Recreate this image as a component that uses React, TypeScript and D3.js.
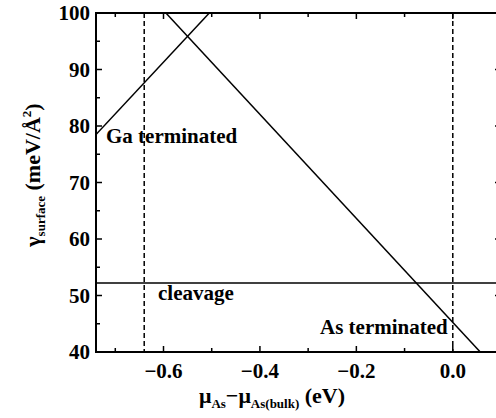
import React, { useEffect, useRef } from 'react';
import * as d3 from 'd3';

// surface energy lines (x in eV, y in meV/Å²)
const gaTerminated: [number, number][] = [[-0.74, 78.5], [-0.505, 100]];
const asTerminated: [number, number][] = [[-0.595, 100], [0.057, 40]];
const cleavageLevel = 52.2;
const dashedLimits = [-0.64, 0.0];
const xTicks = [-0.6, -0.4, -0.2, 0.0];
const xMinorTicks = [-0.7, -0.5, -0.3, -0.1, 0.1];
const yTicks = [40, 50, 60, 70, 80, 90, 100];
const yMinorTicks = [45, 55, 65, 75, 85, 95];

const App: React.FC = () => {
  const svgRef = useRef<SVGSVGElement | null>(null);

  useEffect(() => {
    if (!svgRef.current) return;
    const svg = d3.select(svgRef.current);
    svg.selectAll('*').remove();

    const margin = { left: 96, right: 501, top: 13, bottom: 352 };
    const x = d3.scaleLinear().domain([-0.74, 0.1]).range([margin.left, margin.right]);
    const y = d3.scaleLinear().domain([40, 100]).range([margin.bottom, margin.top]);

    svg.append('defs').append('clipPath').attr('id', 'plot-clip')
      .append('rect')
      .attr('x', margin.left).attr('y', margin.top)
      .attr('width', margin.right - margin.left).attr('height', margin.bottom - margin.top);

    const plot = svg.append('g').attr('clip-path', 'url(#plot-clip)');
    const line = d3.line<[number, number]>().x(d => x(d[0])).y(d => y(d[1]));

    plot.append('path').datum(gaTerminated).attr('d', line)
      .attr('fill', 'none').attr('stroke', '#000').attr('stroke-width', 1.5);
    plot.append('path').datum(asTerminated).attr('d', line)
      .attr('fill', 'none').attr('stroke', '#000').attr('stroke-width', 1.5);
    plot.append('line')
      .attr('x1', x(-0.74)).attr('x2', x(0.1))
      .attr('y1', y(cleavageLevel)).attr('y2', y(cleavageLevel))
      .attr('stroke', '#000').attr('stroke-width', 1.5);

    plot.selectAll('.limit')
      .data(dashedLimits)
      .join('line')
      .attr('class', 'limit')
      .attr('x1', d => x(d)).attr('x2', d => x(d))
      .attr('y1', y(100)).attr('y2', y(40))
      .attr('stroke', '#000').attr('stroke-width', 1.5)
      .attr('stroke-dasharray', '5,3');

    // frame
    svg.append('rect')
      .attr('x', margin.left).attr('y', margin.top)
      .attr('width', margin.right - margin.left).attr('height', margin.bottom - margin.top)
      .attr('fill', 'none').attr('stroke', '#000').attr('stroke-width', 2);

    const ticks = svg.append('g').attr('stroke', '#000').attr('stroke-width', 1.5);
    const xt = [...xTicks.map(v => ({ v, len: 6 })), ...xMinorTicks.map(v => ({ v, len: 4 }))];
    const yt = [...yTicks.map(v => ({ v, len: 6 })), ...yMinorTicks.map(v => ({ v, len: 4 }))];
    xt.forEach(t => {
      ticks.append('line').attr('x1', x(t.v)).attr('x2', x(t.v))
        .attr('y1', margin.bottom).attr('y2', margin.bottom - t.len);
      ticks.append('line').attr('x1', x(t.v)).attr('x2', x(t.v))
        .attr('y1', margin.top).attr('y2', margin.top + t.len);
    });
    yt.forEach(t => {
      ticks.append('line').attr('y1', y(t.v)).attr('y2', y(t.v))
        .attr('x1', margin.left).attr('x2', margin.left + t.len);
      ticks.append('line').attr('y1', y(t.v)).attr('y2', y(t.v))
        .attr('x1', margin.right).attr('x2', margin.right - t.len);
    });

    const txt = svg.append('g')
      .attr('font-family', 'Liberation Serif')
      .attr('font-weight', 'bold');

    txt.selectAll('.xlabel')
      .data(xTicks)
      .join('text')
      .attr('class', 'xlabel')
      .attr('x', d => x(d)).attr('y', 378)
      .attr('text-anchor', 'middle')
      .attr('font-size', 21)
      .text(d => d3.format('.1f')(d).replace('-', '\u2212'));

    txt.selectAll('.ylabel')
      .data(yTicks)
      .join('text')
      .attr('class', 'ylabel')
      .attr('x', 90).attr('y', d => y(d) + 7)
      .attr('text-anchor', 'end')
      .attr('font-size', 21)
      .text(d => d);

    const label = (tx: number, ty: number, s: string) =>
      txt.append('text').attr('x', tx).attr('y', ty)
        .attr('font-size', 21)
        .text(s);
    label(106, 143, 'Ga terminated');
    label(158, 300, 'cleavage');
    label(320, 334, 'As terminated');

    // axis titles
    const xTitle = txt.append('text').attr('x', 272).attr('y', 403)
      .attr('text-anchor', 'middle')
      .attr('font-size', 22);
    xTitle.append('tspan').text('\u03bc');
    xTitle.append('tspan').attr('font-size', 13).attr('dy', 5).text('As');
    xTitle.append('tspan').attr('dy', -5).text('\u2212\u03bc');
    xTitle.append('tspan').attr('font-size', 13).attr('dy', 5).text('As(bulk)');
    xTitle.append('tspan').attr('dy', -5).text(' (eV)');

    const yTitle = txt.append('text')
      .attr('transform', 'translate(40,175) rotate(-90)')
      .attr('text-anchor', 'middle')
      .attr('font-size', 22);
    yTitle.append('tspan').text('\u03b3');
    yTitle.append('tspan').attr('font-size', 13).attr('dy', 5).text('surface');
    yTitle.append('tspan').attr('dy', -5).text(' (meV/\u00c5');
    yTitle.append('tspan').attr('font-size', 13).attr('dy', -9).text('2');
    yTitle.append('tspan').attr('dy', 9).text(')');
  }, []);

  return (
    <svg ref={svgRef} width={496} height={418}
      style={{ position: 'absolute', left: 0, top: 0, background: '#fff' }} />
  );
};

export default App;
